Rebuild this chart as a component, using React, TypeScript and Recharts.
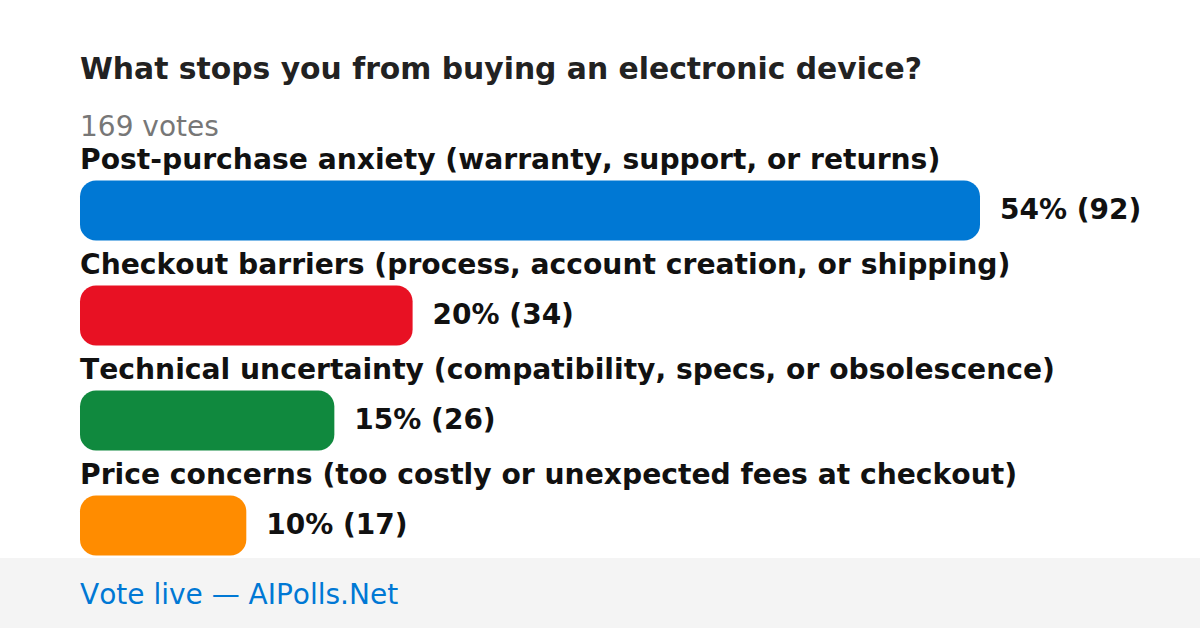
import React from 'react';
import { BarChart, Bar, XAxis, YAxis, Cell, Rectangle } from 'recharts';

const title = 'What stops you from buying an electronic device?';
const totalVotesLabel = '169 votes';
const footerLabel = 'Vote live — AIPolls.Net';

const categories = [
  'Post-purchase anxiety (warranty, support, or returns)',
  'Checkout barriers (process, account creation, or shipping)',
  'Technical uncertainty (compatibility, specs, or obsolescence)',
  'Price concerns (too costly or unexpected fees at checkout)',
];
const votes = [92, 34, 26, 17];
const percents = [54, 20, 15, 10];
const colors = ['#0078d4', '#e81123', '#10893e', '#ff8c00'];

const data = categories.map((name, i) => ({
  name,
  votes: votes[i],
  pct: percents[i],
}));

const FONT = '"DejaVu Sans", Verdana, sans-serif';
const noKern: React.CSSProperties = { fontKerning: 'none' };

const BarShape = (props: any) => {
  const { x, y, width, height, fill, payload } = props;
  return (
    <g>
      <text x={x} y={y - 12} fontFamily={FONT} fontWeight="bold" fontSize={28.2} fill="#111" style={noKern}>
        {payload.name}
      </text>
      <Rectangle x={x} y={y} width={width} height={height} fill={fill} radius={16} />
      <text
        x={x + width + 20}
        y={y + height / 2 + 8}
        fontFamily={FONT}
        fontWeight="bold"
        fontSize={28}
        fill="#111"
        style={noKern}
      >
        {`${payload.pct}% (${payload.votes})`}
      </text>
    </g>
  );
};

export default function App() {
  return (
    <div style={{ position: 'absolute', left: 0, top: 0, width: 1200, height: 628, background: '#fff' }}>
      <svg width={1200} height={628} style={{ position: 'absolute', left: 0, top: 0 }}>
        <text x={80} y={79} fontFamily={FONT} fontWeight="bold" fontSize={29.8} fill="#222" style={noKern}>
          {title}
        </text>
        <text x={80} y={136} fontFamily={FONT} fontSize={28} fill="#777" style={noKern}>
          {totalVotesLabel}
        </text>
        <rect x={0} y={558} width={1200} height={70} fill="#f4f4f4" />
        <text x={80} y={604} fontFamily={FONT} fontSize={28} fill="#0078d4" style={noKern}>
          {footerLabel}
        </text>
      </svg>
      <div style={{ position: 'absolute', left: 0, top: 0 }}>
        <BarChart
          width={1200}
          height={628}
          data={data}
          layout="vertical"
          margin={{ top: 157.5, right: 220, bottom: 50.5, left: 80 }}
        >
          <XAxis type="number" domain={[0, 'dataMax']} hide />
          <YAxis type="category" dataKey="name" hide />
          <Bar dataKey="votes" barSize={60} isAnimationActive={false} shape={BarShape}>
            {data.map((d, i) => (
              <Cell key={d.name} fill={colors[i]} />
            ))}
          </Bar>
        </BarChart>
      </div>
    </div>
  );
}
